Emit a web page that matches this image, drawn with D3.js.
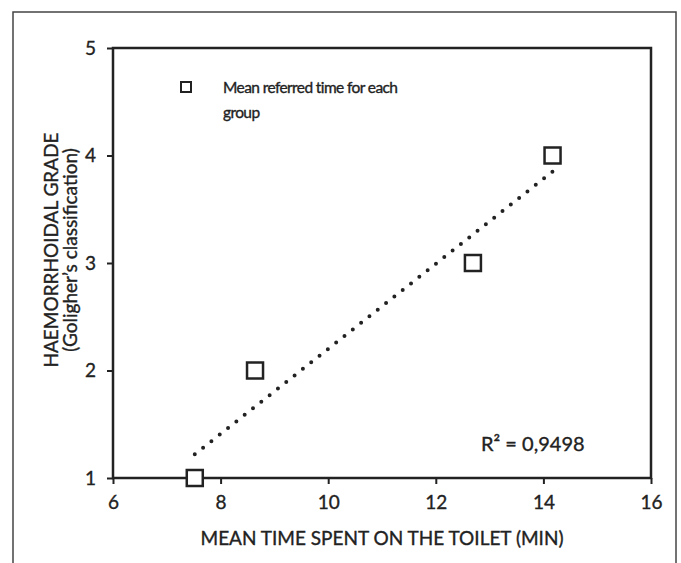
<!DOCTYPE html>
<html>
<head>
<meta charset="utf-8">
<script src="https://cdn.jsdelivr.net/npm/d3@7"></script>
<style>
  body { margin: 0; background: #fff; }
  text { font-family: Lato, "Open Sans", sans-serif; fill: #222; stroke: #222; stroke-width: 0.35px; }
</style>
</head>
<body>
<div id="chart"></div>
<script>
// Haemorrhoidal grade vs mean time spent on the toilet //
const width = 681;
const height = 563;

// data
const meanTime = [7.52, 8.64, 12.69, 14.17];
const grade = [1, 2, 3, 4];
const xTicks = [6, 8, 10, 12, 14, 16];
const yTicks = [1, 2, 3, 4, 5];
const rSquaredLabel = "R² = 0,9498";
const legendLines = ["Mean referred time for each", "group"];
const xTitle = "MEAN TIME SPENT ON THE TOILET (MIN)";
const yTitle = ["HAEMORRHOIDAL GRADE", "(Goligher\u2019s classification)"];

const margin = { top: 48, right: 30, bottom: 85, left: 113 };

const svg = d3.select("#chart")
  .append("svg")
  .attr("width", width)
  .attr("height", height);

// outer frame (runs off the bottom of the picture)
svg.append("rect")
  .attr("x", 13)
  .attr("y", 12)
  .attr("width", 663)
  .attr("height", 600)
  .attr("fill", "none")
  .attr("stroke", "#444")
  .attr("stroke-width", 1.5);

const x = d3.scaleLinear()
  .domain([6, 16])
  .range([margin.left, width - margin.right]);

const y = d3.scaleLinear()
  .domain([1, 5])
  .range([height - margin.bottom, margin.top]);

// plot box
svg.append("rect")
  .attr("x", x(6))
  .attr("y", y(5))
  .attr("width", x(16) - x(6))
  .attr("height", y(1) - y(5))
  .attr("fill", "none")
  .attr("stroke", "#222")
  .attr("stroke-width", 2.5);

const xAxis = svg.append("g")
  .attr("transform", `translate(0, ${y(1)})`)
  .call(d3.axisBottom(x).tickValues(xTicks).tickFormat(d3.format("d")).tickSize(6).tickPadding(12));

const yAxis = svg.append("g")
  .attr("transform", `translate(${x(6)}, 0)`)
  .call(d3.axisLeft(y).tickValues(yTicks).tickFormat(d3.format("d")).tickSize(6).tickPadding(11));

[xAxis, yAxis].forEach(g => {
  g.select(".domain").remove();
  g.selectAll("line").attr("stroke", "#222").attr("stroke-width", 2);
  g.selectAll("text")
    .attr("font-family", "Lato, sans-serif")
    .attr("font-size", 19)
    .attr("fill", "#222");
});

// linear trend line (least squares fit of the points)
const mx = d3.mean(meanTime);
const my = d3.mean(grade);
const sxy = d3.sum(meanTime, (d, i) => (d - mx) * (grade[i] - my));
const sxx = d3.sum(meanTime, d => (d - mx) ** 2);
const slope = sxy / sxx;
const intercept = my - slope * mx;
const xExtent = d3.extent(meanTime);

const line = d3.line()
  .x(d => x(d))
  .y(d => y(intercept + slope * d));

svg.append("path")
  .datum(xExtent)
  .attr("d", line)
  .attr("fill", "none")
  .attr("stroke", "#222")
  .attr("stroke-width", 4)
  .attr("stroke-linecap", "round")
  .attr("stroke-dasharray", "0 10.6");

// square markers
const size = 16;
svg.selectAll(".point")
  .data(meanTime)
  .enter()
  .append("rect")
  .attr("class", "point")
  .attr("x", d => x(d) - size / 2)
  .attr("y", (d, i) => y(grade[i]) - size / 2)
  .attr("width", size)
  .attr("height", size)
  .attr("fill", "#fff")
  .attr("stroke", "#222")
  .attr("stroke-width", 2.5);

// legend
svg.append("rect")
  .attr("x", 181)
  .attr("y", 82)
  .attr("width", 10)
  .attr("height", 10)
  .attr("fill", "#fff")
  .attr("stroke", "#222")
  .attr("stroke-width", 2);

svg.selectAll(".legend-text")
  .data(legendLines)
  .enter()
  .append("text")
  .attr("class", "legend-text")
  .attr("x", 223)
  .attr("y", (d, i) => 93 + i * 25)
  .style("font-size", "15.5px")
  .style("letter-spacing", "-0.6px")
  .text(d => d);

// R squared
svg.append("text")
  .attr("x", 481)
  .attr("y", 451)
  .style("font-size", "20px")
  .text(rSquaredLabel);

// axis titles
svg.append("text")
  .attr("x", (x(6) + x(16)) / 2)
  .attr("y", 545)
  .attr("text-anchor", "middle")
  .style("font-size", "19px")
  .text(xTitle);

svg.selectAll(".y-title")
  .data(yTitle)
  .enter()
  .append("text")
  .attr("class", "y-title")
  .attr("transform", (d, i) => `translate(${58 + i * 19}, 250) rotate(-90)`)
  .attr("text-anchor", "middle")
  .style("font-size", "19px")
  .text(d => d);
</script>
</body>
</html>
